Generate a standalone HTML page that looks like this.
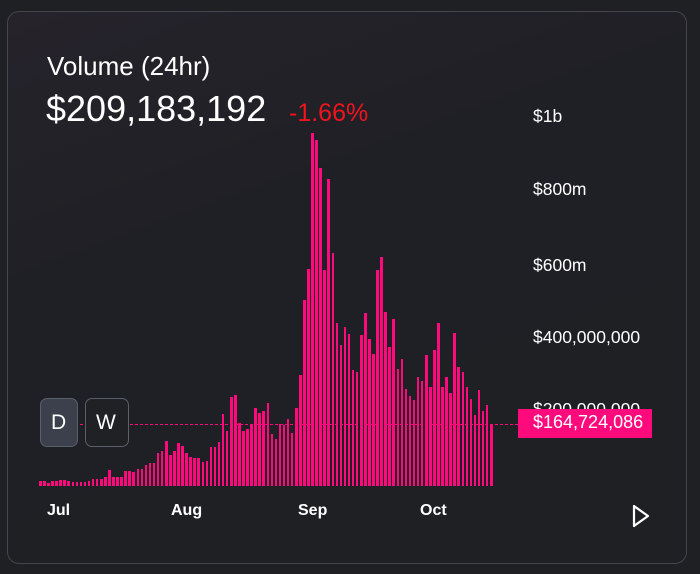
<!DOCTYPE html>
<html><head><meta charset="utf-8"><style>
html,body{margin:0;padding:0;width:700px;height:574px;overflow:hidden;background:#1f2024;}
.card{position:absolute;left:7px;top:11px;width:680px;height:553px;border:1px solid #45454d;border-radius:12px;box-sizing:border-box;background:linear-gradient(160deg,#26232b 0%,#1f2025 35%,#1e2024 100%);}
.t{position:absolute;font-family:"Liberation Sans",sans-serif;color:#fff;white-space:nowrap;}
.bars{position:absolute;left:39px;top:120px;width:455px;height:366px;display:flex;align-items:flex-end;justify-content:space-between;}
.bars i{display:block;width:2.6px;background:#ff0a7c;}
</style></head><body>
<div class="card"></div>
<div class="t" style="left:47px;top:51px;font-size:26px;">Volume (24hr)</div>
<div class="t" style="left:46px;top:88px;font-size:36px;">$209,183,192</div>
<div class="t" style="left:289px;top:99px;font-size:25px;color:#f0141e;">-1.66%</div>
<div class="t" style="left:533px;top:106px;font-size:17.5px;">$1b</div>
<div class="t" style="left:533px;top:179px;font-size:17.5px;">$800m</div>
<div class="t" style="left:533px;top:255px;font-size:17.5px;">$600m</div>
<div class="t" style="left:533px;top:327px;font-size:17.5px;">$400,000,000</div>
<div class="t" style="left:533px;top:399px;font-size:17.5px;">$200,000,000</div>
<div class="bars">
<i style="height:5.3px"></i><i style="height:5.3px"></i><i style="height:3.3px"></i><i style="height:4.7px"></i><i style="height:4.7px"></i><i style="height:6px"></i><i style="height:6px"></i><i style="height:5.3px"></i><i style="height:4px"></i><i style="height:4px"></i><i style="height:4px"></i><i style="height:4px"></i><i style="height:5.3px"></i><i style="height:6.7px"></i><i style="height:6.7px"></i><i style="height:7.3px"></i><i style="height:9.3px"></i><i style="height:16px"></i><i style="height:9.3px"></i><i style="height:9.3px"></i><i style="height:9.3px"></i><i style="height:14.7px"></i><i style="height:14.7px"></i><i style="height:14px"></i><i style="height:17.3px"></i><i style="height:17.3px"></i><i style="height:20.7px"></i><i style="height:23.3px"></i><i style="height:23.3px"></i><i style="height:32.7px"></i><i style="height:34.7px"></i><i style="height:45.3px"></i><i style="height:30.7px"></i><i style="height:34.7px"></i><i style="height:42.7px"></i><i style="height:40px"></i><i style="height:32.7px"></i><i style="height:29.3px"></i><i style="height:28px"></i><i style="height:28px"></i><i style="height:24px"></i><i style="height:25.3px"></i><i style="height:39.3px"></i><i style="height:39.3px"></i><i style="height:44px"></i><i style="height:72px"></i><i style="height:54.7px"></i><i style="height:88.7px"></i><i style="height:91.3px"></i><i style="height:63.3px"></i><i style="height:55.3px"></i><i style="height:56.7px"></i><i style="height:61.3px"></i><i style="height:78px"></i><i style="height:72.7px"></i><i style="height:74.7px"></i><i style="height:83.3px"></i>
<i style="height:52px"></i><i style="height:46.7px"></i><i style="height:62px"></i><i style="height:60.7px"></i><i style="height:66.7px"></i><i style="height:52.7px"></i><i style="height:78px"></i><i style="height:111.3px"></i><i style="height:186px"></i><i style="height:216.7px"></i><i style="height:352.7px"></i><i style="height:346px"></i><i style="height:317.7px"></i><i style="height:216px"></i><i style="height:306.7px"></i><i style="height:233.3px"></i><i style="height:163.3px"></i><i style="height:140.7px"></i><i style="height:158.7px"></i><i style="height:152px"></i><i style="height:116px"></i><i style="height:114px"></i><i style="height:150.7px"></i><i style="height:173.3px"></i><i style="height:147.3px"></i><i style="height:132px"></i><i style="height:216px"></i><i style="height:228.7px"></i><i style="height:174px"></i><i style="height:138.7px"></i><i style="height:166.7px"></i><i style="height:116.7px"></i><i style="height:126.7px"></i><i style="height:96.7px"></i><i style="height:90px"></i><i style="height:86px"></i><i style="height:108.7px"></i><i style="height:104.7px"></i><i style="height:131.3px"></i><i style="height:98.7px"></i><i style="height:136px"></i><i style="height:162.7px"></i><i style="height:98.7px"></i><i style="height:108.7px"></i><i style="height:93.3px"></i><i style="height:152.7px"></i><i style="height:119.3px"></i><i style="height:114px"></i><i style="height:98.7px"></i><i style="height:86.7px"></i><i style="height:71.3px"></i><i style="height:96px"></i><i style="height:75.3px"></i><i style="height:80.7px"></i><i style="height:61.3px"></i>
</div>
<div style="position:absolute;left:45px;top:424px;width:473px;height:0;border-top:1.5px dashed #ff0a7c;"></div>
<div style="position:absolute;left:518px;top:409px;width:134px;height:29px;background:#ff0a7c;"></div>
<div class="t" style="left:533px;top:412px;font-size:18px;">$164,724,086</div>
<div style="position:absolute;left:40px;top:398px;width:38px;height:49px;background:#3b404c;border:1px solid #5a5f6c;border-radius:7px;box-sizing:border-box;"></div>
<div style="position:absolute;left:85px;top:398px;width:44px;height:49px;background:#1f2125;border:1px solid #5a5f6c;border-radius:7px;box-sizing:border-box;"></div>
<div class="t" style="left:51px;top:411px;font-size:21px;">D</div>
<div class="t" style="left:96px;top:411px;font-size:21px;">W</div>
<div class="t" style="left:47px;top:502px;font-size:16px;font-weight:bold;">Jul</div>
<div class="t" style="left:171px;top:502px;font-size:16px;font-weight:bold;">Aug</div>
<div class="t" style="left:298px;top:502px;font-size:16px;font-weight:bold;">Sep</div>
<div class="t" style="left:420px;top:502px;font-size:16px;font-weight:bold;">Oct</div>
<svg width="700" height="574" style="position:absolute;left:0;top:0"><path d="M634 506 L648 516 L634 526 Z" fill="none" stroke="#fff" stroke-width="2.2" stroke-linejoin="round"/></svg>
</body></html>
